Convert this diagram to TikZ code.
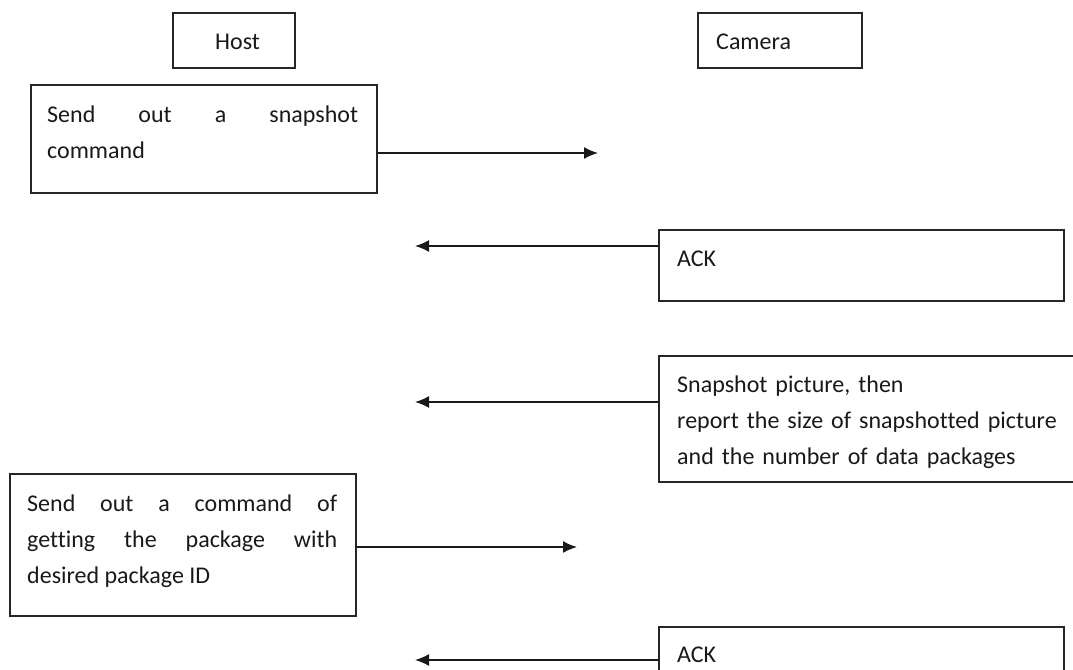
\documentclass[tikz,border=0pt]{standalone}
\usepackage{fontspec}
\setmainfont[Ligatures=NoCommon]{Carlito}
\usetikzlibrary{arrows.meta}
\begin{document}
\begin{tikzpicture}[x=1pt,y=-1pt,
  box/.style={draw=black!85,line width=1.6pt,anchor=north west,inner sep=0pt,minimum width=#1},
  txt/.style={inner sep=0pt,anchor=base west,font=\fontsize{24}{36}\selectfont,text=black!90},
  jtxt/.style={txt,text width=#1,align=justify},
  arr/.style={draw=black!90,line width=1.6pt,-{Latex[length=14pt,width=12pt]}}]
\useasboundingbox (0,0) rectangle (1073,669);
\clip (0,0) rectangle (1073,669);
% header boxes
\node[box=122pt,minimum height=55pt] (host) at (172,12) {};
\node[txt] (hostt) at (215,49) {Host};
\node[box=164pt,minimum height=55pt] (cam) at (697,12) {};
\node[txt] (camt) at (716,49) {Camera};
% step 1
\node[box=346pt,minimum height=108pt] (b1) at (30,84) {};
\node[jtxt=311pt] (b1t) at (47,122) {Send out a snapshot\linebreak command};
\coordinate (e1) at (598,153);
\draw[arr] (b1.east |- e1) -- (e1);
% ACK 1
\node[box=405pt,minimum height=71pt] (ack1) at (658,229) {};
\node[txt] (ack1t) at (677,266) {ACK};
\coordinate (e2) at (415,246);
\draw[arr] (ack1.west |- e2) -- (e2);
% snapshot report
\node[box=440pt,minimum height=126pt] (snap) at (658,355) {};
\node[txt,text width=420pt,align=left] (snapt) at (677,392) {Snapshot picture, then\\report the size of snapshotted picture\\and the number of data packages};
\coordinate (e3) at (415,402);
\draw[arr] (snap.west |- e3) -- (e3);
% step 2
\node[box=346pt,minimum height=142pt] (b2) at (9,473) {};
\node[jtxt=310pt] (b2t) at (27,511) {Send out a command of\linebreak getting the package with\linebreak desired package ID};
\coordinate (e4) at (577,547);
\draw[arr] (b2.east |- e4) -- (e4);
% ACK 2
\node[box=405pt,minimum height=71pt] (ack2) at (658,626) {};
\node[txt] (ack2t) at (677,662) {ACK};
\coordinate (e5) at (415,660);
\draw[arr] (ack2.west |- e5) -- (e5);
\end{tikzpicture}
\end{document}
